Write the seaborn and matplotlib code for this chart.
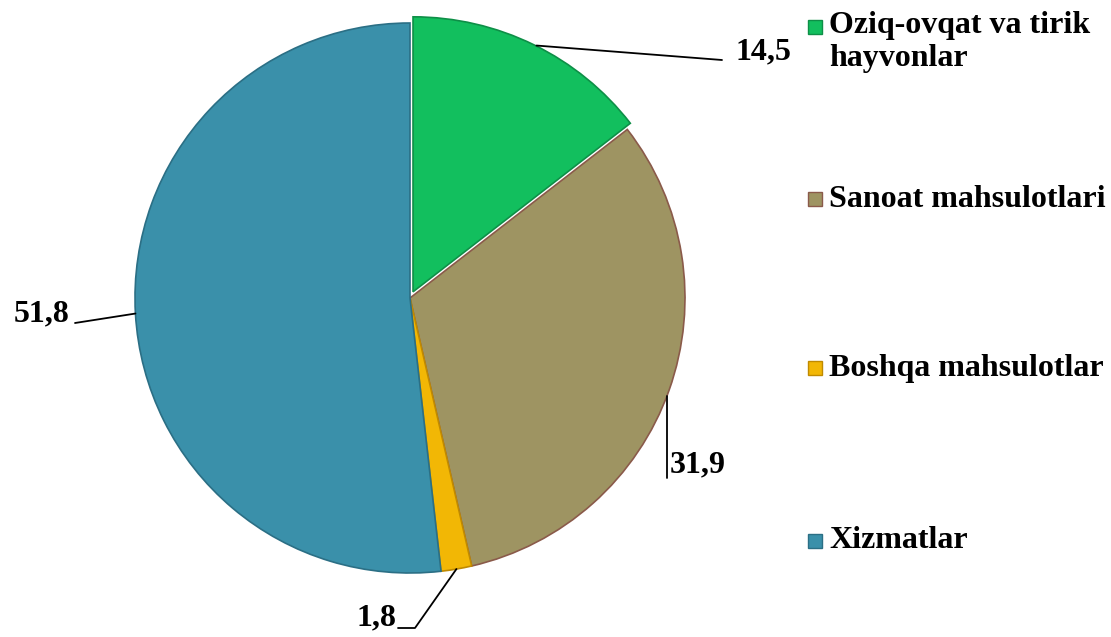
import numpy as np
import matplotlib.pyplot as plt
import seaborn as sns
from matplotlib.patches import Rectangle

# data
categories = ['Oziq-ovqat va tirik\nhayvonlar', 'Sanoat mahsulotlari',
              'Boshqa mahsulotlar', 'Xizmatlar']
shares = [14.5, 31.9, 1.8, 51.8]
value_labels = ['14,5', '31,9', '1,8', '51,8']
colors = ['#12BF5E', '#9E9462', '#F2B705', '#3A90AA']
edge_colors = ['#0E8F47', '#8A5A4A', '#C08A00', '#2B6F85']

sns.set_theme(style='white')
plt.rcParams['font.family'] = ['Liberation Serif', 'DejaVu Serif']
plt.rcParams['text.color'] = 'black'

W, H = 1111, 637
cx, cy, R = 410, 298, 275   # pie centre / radius in pixels

fig = plt.figure(figsize=(W / 100, H / 100), dpi=100)
ax = fig.add_axes([0, 0, 1, 1])

wedges, _ = ax.pie(shares, colors=colors, startangle=90, counterclock=False,
                   explode=[0.025, 0, 0, 0],
                   wedgeprops=dict(linewidth=1.2))
for w, ec in zip(wedges, edge_colors):
    w.set_edgecolor(ec)

ax.set_xlim(-cx / R, (W - cx) / R)
ax.set_ylim(-(H - cy) / R, cy / R)
ax.set_aspect('equal')
ax.axis('off')


def px(x, y):
    # pixel position -> data units
    return (x - cx) / R, (cy - y) / R


def anchor(w):
    t = np.deg2rad((w.theta1 + w.theta2) / 2)
    return np.cos(t), np.sin(t)


fs = 23
lw = 1.3

# 14,5
a = anchor(wedges[0])
p = px(722, 60)
ax.plot([a[0] + 0.02, p[0]], [a[1] + 0.02, p[1]], color='black', lw=lw, clip_on=False)
ax.text(*px(736, 52), value_labels[0], fontsize=fs, fontweight='bold',
        ha='left', va='center', color='black')

# 31,9
a = anchor(wedges[1])
p = px(667, 478)
ax.plot([p[0], p[0]], [a[1] - 0.02, p[1]], color='black', lw=lw, clip_on=False)
ax.text(*px(670, 465), value_labels[1], fontsize=fs, fontweight='bold',
        ha='left', va='center', color='black')

# 1,8
a = anchor(wedges[2])
p1 = px(415, 628)
p2 = px(398, 628)
ax.plot([a[0], p1[0], p2[0]], [a[1], p1[1], p2[1]], color='black', lw=lw, clip_on=False)
ax.text(*px(396, 618), value_labels[2], fontsize=fs, fontweight='bold',
        ha='right', va='center', color='black')

# 51,8
a = anchor(wedges[3])
p = px(75, 323)
ax.plot([a[0], p[0]], [a[1], p[1]], color='black', lw=lw, clip_on=False)
ax.text(*px(70, 314), value_labels[3], fontsize=fs, fontweight='bold',
        ha='right', va='center', color='black')

# legend drawn by hand to follow the original spacing
legend_y = [27, 199, 368, 541]
for cat, col, ec, y in zip(categories, colors, edge_colors, legend_y):
    mx, my = px(808, y + 7)
    ax.add_patch(Rectangle((mx, my), 14 / R, 14 / R, facecolor=col,
                           edgecolor=ec, lw=1, clip_on=False))
    if '\n' in cat:
        ax.text(*px(829, y - 16), cat, fontsize=fs, fontweight='bold',
                ha='left', va='top', linespacing=1.2, color='black')
    else:
        ax.text(*px(829, y), cat, fontsize=fs, fontweight='bold',
                ha='left', va='center', color='black')

fig.savefig('out.png', dpi=100)
